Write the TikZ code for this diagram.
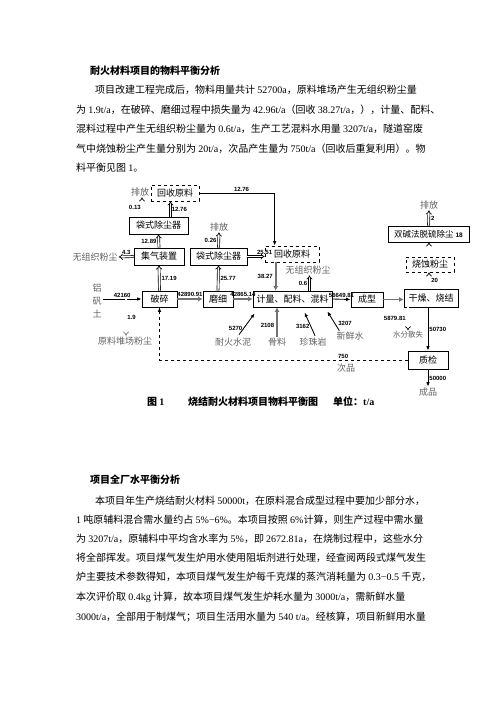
\documentclass[tikz,border=0pt]{standalone}
\usepackage{fontspec}
\setmainfont{Liberation Serif}
\newfontfamily\cjk{Noto Sans CJK SC}
\newfontfamily\lsans{Liberation Sans}
\usetikzlibrary{arrows.meta,positioning,calc}
\newcommand{\latn}[1]{{\rmfamily #1}}
\definecolor{labgray}{gray}{0.38}

\begin{document}
\begin{tikzpicture}[x=1pt,y=-1pt,
  proc/.style={draw,line width=0.7pt,minimum height=16pt,inner sep=1pt,font=\cjk\fontsize{9}{9}\selectfont},
  recbox/.style={proc,dashed},
  txt/.style={font=\cjk\fontsize{9}{9}\selectfont,text=labgray,inner sep=1pt},
  num/.style={font=\lsans\bfseries\fontsize{6}{6}\selectfont,text=black,inner sep=1pt},
  hollow/.style={double,double distance=1.4pt,line width=0.65pt,-{Implies}},
  thickgray/.style={draw=black!55,line width=1.8pt,-{Latex[length=4.5pt,width=5pt]}},
  blk/.style={line width=0.85pt,-{Latex[length=4.5pt,width=3.5pt]}},
  back/.style={dashed,line width=0.8pt,-{Latex[length=4.5pt,width=3.5pt]}},
  bodyline/.style={anchor=base west,inner sep=0pt,font=\cjk\fontsize{10}{10}\selectfont},
  headline/.style={bodyline,font=\cjk\bfseries\fontsize{10}{10}\selectfont}]
\fill[white] (0,0) rectangle (496,702);
\useasboundingbox (0,0) rectangle (496,702);

\node[headline] at (90,74) {耐火材料项目的物料平衡分析};
\node[bodyline] at (95,93) {项目改建工程完成后，物料用量共计 \latn{52700a}，原料堆场产生无组织粉尘量};
\node[bodyline] at (76,113) {为 \latn{1.9t/a}，在破碎、磨细过程中损失量为 \latn{42.96t/a}（回收 \latn{38.27t/a}，），计量、配料、};
\node[bodyline] at (76,132) {混料过程中产生无组织粉尘量为 \latn{0.6t/a}，生产工艺混料水用量 \latn{3207t/a}，隧道窑废};
\node[bodyline] at (76,152) {气中烧蚀粉尘产生量分别为 \latn{20t/a}，次品产生量为 \latn{750t/a}（回收后重复利用）。物};
\node[bodyline] at (76,171) {料平衡见图 \latn{1}。};

\node[recbox,minimum width=48pt] (recA) at (175,193) {回收原料};
\node[txt] (ventA) at (140,192) {排放};
\node[proc,minimum width=59pt,minimum height=17pt] (bag1) at (158.5,225.5) {袋式除尘器};
\node[proc,minimum width=50pt,minimum height=17pt] (coll) at (159,256.5) {集气装置};
\node[txt] (dustA) at (95,257) {无组织粉尘};
\node[proc,minimum width=35pt] (crush) at (159.5,299) {破碎};
\node[proc,minimum width=30pt] (mill) at (218,299) {磨细};
\node[proc,minimum width=79pt] (mix) at (292.5,299) {计量、配料、混料};
\node[proc,minimum width=32pt,minimum height=15pt] (form) at (367,299.5) {成型};
\node[proc,minimum width=54pt,minimum height=18pt] (dry) at (431,298) {干燥、烧结};
\node[proc,minimum width=40pt,minimum height=18pt] (qc) at (428,360) {质检};
\node[proc,minimum width=57pt,minimum height=17pt] (bag2) at (218.5,256.5) {袋式除尘器};
\node[txt] (vent2) at (219,227) {排放};
\node[recbox,minimum width=54pt] (rec2) at (292,254) {回收原料};
\node[txt] (dust2) at (308,270) {无组织粉尘};
\node[proc,minimum width=81pt,font=\cjk\fontsize{8.5}{8.5}\selectfont] (desulf) at (428.5,234) {双碱法脱硫除尘 \lsans\bfseries\fontsize{6.5}{6.5}\selectfont 18};
\node[txt] (vent3) at (429,205) {排放};
\node[recbox,minimum width=48pt,minimum height=15pt] (ash) at (430,264.5) {烧蚀粉尘};
\node[txt,align=center,font=\cjk\fontsize{9}{13}\selectfont] (bauxite) at (97,301) {铝\\矾\\土};
\node[txt] (pile) at (125,341) {原料堆场粉尘};
\node[txt] (cement) at (233,342) {耐火水泥};
\node[txt] (agg) at (277,342) {骨料};
\node[txt] (pearl) at (313,342) {珍珠岩};
\node[txt] (water) at (350,336) {新鲜水};
\node[txt,font=\cjk\fontsize{7.5}{7.5}\selectfont] (moist) at (408,335) {水分散失};
\node[txt] (defect) at (346,368) {次品};
\node[txt] (product) at (428,392) {成品};
\coordinate (split) at (126,299);

\draw[blk] (recA.east) -| ([xshift=10pt]rec2.north west) node[pos=0.28,above,num]{12.76};
\draw[hollow] ([xshift=-16.5pt]bag1.north) -- ([xshift=-16.5pt]bag1.north |- ventA.south) node[midway,left,num]{0.13};
\draw[hollow] ([xshift=12pt]bag1.north) -- ([xshift=12pt]bag1.north |- recA.south) node[midway,right,num]{12.76};
\draw[hollow] (coll.north) -- (bag1.south) node[midway,left=1pt,num]{12.89};
\draw[hollow] (coll.west) -- (dustA.east) node[midway,above=1pt,num]{4.3};
\draw[hollow] (crush.north) -- (coll.south) node[midway,right=1pt,num]{17.19};
\draw[blk] (bauxite.east |- split) -- (crush.west) node[midway,above,num]{42160};
\draw[hollow,draw=black!55] (split) -- (split |- pile.north) node[midway,right,num]{1.9};
\draw[thickgray] (crush.east) -- (mill.west) node[midway,above=1pt,num]{42890.91};
\draw[thickgray] (mill.east) -- (mix.west) node[midway,above=1pt,num]{42865.14};
\draw[hollow] (mill.north) -- (bag2.south) node[midway,right=1pt,num]{25.77};
\draw[hollow] (bag2.north) -- (vent2.south) node[midway,left=1pt,num]{0.26};
\draw[hollow] (bag2.east) -- (bag2.east -| rec2.west) node[at end,above=1pt,num]{25.51};
\draw[thickgray] ([xshift=11pt]rec2.south west) -- ([xshift=11pt]rec2.south west |- mix.north) node[midway,left=1pt,num]{38.27};
\draw[hollow] ([xshift=17pt]mix.north) -- ([xshift=17pt]mix.north |- dust2.south) node[midway,left=1pt,num]{0.6};
\draw[blk] (mix.east) -- (form.west) node[midway,above,num]{56649.81};
\draw[thickgray] (form.east) -- (form.east -| dry.west);
\draw[hollow] ([xshift=-2pt]dry.north) -- ([xshift=-2pt]dry.north |- ash.south) node[midway,right=1pt,num]{20};
\draw[hollow] ([xshift=-1pt]ash.north) -- ([xshift=-1pt]ash.north |- desulf.south);
\draw[hollow] (desulf.north) -- (vent3.south) node[midway,right=1pt,num]{2};
\draw[hollow] ([xshift=-23pt]dry.south) -- ([xshift=-23pt]dry.south |- moist.north) node[midway,left=1pt,num]{5879.81};
\draw[blk] (qc.north |- dry.south) -- (qc.north) node[midway,right,num]{50730};
\draw[blk] (qc.south) -- (product.north) node[midway,right,num]{50000};
\draw[back] (qc.west) -| (crush.south) node[pos=0.13,above,num]{750};
\draw[blk] ($(cement.north)+(6,-2)$) -- ($(mix.south west)+(2,6)$) node[pos=0.3,left,num]{5270};
\draw[thickgray] (agg.north) -- (agg.north |- mix.south) node[pos=0.4,left=1pt,num]{2108};
\draw[blk] ($(pearl.north)+(2,-1)$) -- ($(mix.south)+(12,5)$) node[pos=0.4,left,num]{3162};
\draw[blk] ($(water.north west)+(4,0)$) -- ($(mix.south east)+(-5,4)$) node[pos=0.2,above right,num]{3207};

\node[headline] at (147,405) {图 \latn{\bfseries 1}};
\node[headline] at (188,405) {烧结耐火材料项目物料平衡图};
\node[headline] at (333,405) {单位：\latn{\bfseries t/a}};

\node[headline] at (90,483) {项目全厂水平衡分析};
\node[bodyline] at (95,504) {本项目年生产烧结耐火材料 \latn{50000t}，在原料混合成型过程中要加少部分水，};
\node[bodyline] at (76,523) {\latn{1} 吨原辅料混合需水量约占 \latn{5\%−6\%}。本项目按照 \latn{6\%}计算，则生产过程中需水量};
\node[bodyline] at (76,542) {为 \latn{3207t/a}，原辅料中平均含水率为 \latn{5\%}，即 \latn{2672.81a}，在烧制过程中，这些水分};
\node[bodyline] at (76,561) {将全部挥发。项目煤气发生炉用水使用阻垢剂进行处理，经查阅两段式煤气发生};
\node[bodyline] at (76,580) {炉主要技术参数得知，本项目煤气发生炉每千克煤的蒸汽消耗量为 \latn{0.3−0.5} 千克，};
\node[bodyline] at (76,600) {本次评价取 \latn{0.4kg} 计算，故本项目煤气发生炉耗水量为 \latn{3000t/a}，需新鲜水量};
\node[bodyline] at (76,620) {\latn{3000t/a}，全部用于制煤气；项目生活用水量为 \latn{540 t/a}。经核算，项目新鲜用水量};
\end{tikzpicture}
\end{document}
